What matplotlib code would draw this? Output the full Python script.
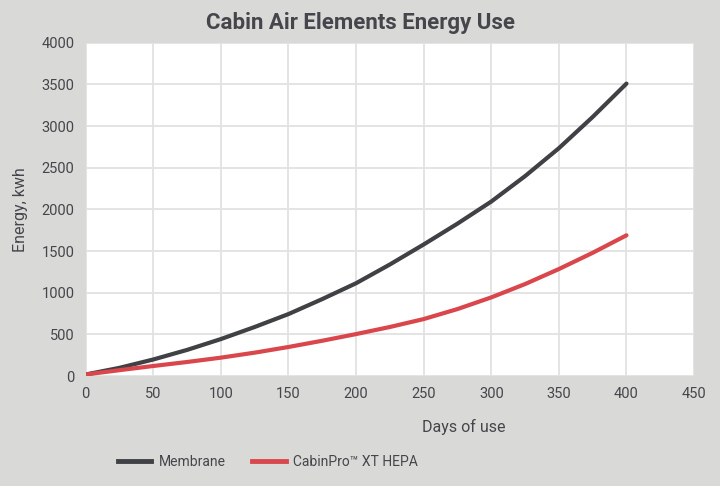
import matplotlib
matplotlib.use("Agg")
import matplotlib.pyplot as plt
from matplotlib.lines import Line2D

# data
days = [0, 25, 50, 75, 100, 125, 150, 175, 200, 225, 250, 275, 300, 325, 350, 375, 400]
membrane = [20, 100, 200, 315, 445, 590, 745, 925, 1115, 1340, 1580, 1830, 2095, 2400, 2735, 3110, 3510]
hepa = [20, 72, 122, 170, 222, 282, 350, 425, 505, 590, 685, 805, 945, 1105, 1285, 1480, 1690]
series_names = ["Membrane", "CabinPro\u2122 XT HEPA"]
x_ticks = [0, 50, 100, 150, 200, 250, 300, 350, 400, 450]
y_ticks = [0, 500, 1000, 1500, 2000, 2500, 3000, 3500, 4000]

bg = "#d9d9d7"
txt = "#45464b"
c_mem = "#404145"
c_hepa = "#d9474d"

plt.rcParams["font.family"] = ["Roboto", "DejaVu Sans"]

fig = plt.figure(figsize=(7.2, 4.86), dpi=100, facecolor=bg)
ax = fig.add_axes([0.119, 0.226, 0.845, 0.686])
ax.set_facecolor("white")

ax.plot(days, membrane, color=c_mem, lw=3, solid_capstyle="round", zorder=3)
ax.plot(days, hepa, color=c_hepa, lw=3, solid_capstyle="round", zorder=3)

ax.set_xlim(0, 450)
ax.set_ylim(0, 4000)
ax.set_xticks(x_ticks)
ax.set_yticks(y_ticks)
ax.grid(True, color="#e2e2e2", lw=1.3)
ax.set_axisbelow(True)
for s in ax.spines.values():
    s.set_visible(False)
ax.tick_params(length=0, labelsize=10.5, colors=txt, pad=8)

ax.set_ylabel("Energy, kwh", fontsize=11.5, color=txt, labelpad=10)
fig.text(464 / 720, 1 - 427 / 486, "Days of use", fontsize=11.5, color=txt,
         ha="center", va="center")
fig.text(0.5, 1 - 23 / 486, "Cabin Air Elements Energy Use", fontsize=16,
         fontweight="bold", color=txt, ha="center", va="center")

handles = [Line2D([], [], color=c_mem, lw=3.5), Line2D([], [], color=c_hepa, lw=3.5)]
fig.legend(handles, series_names, loc="center", bbox_to_anchor=(268 / 720, 1 - 462 / 486),
           ncol=2, frameon=False, fontsize=10, labelcolor=txt, handlelength=2.4,
           handletextpad=0.55, columnspacing=1.9)

fig.savefig("out.png", dpi=100, facecolor=bg)
